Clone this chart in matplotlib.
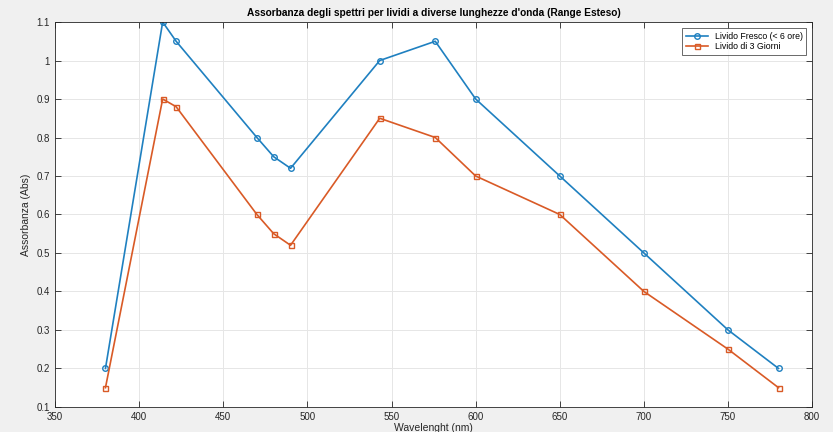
import matplotlib
matplotlib.use('Agg')
import matplotlib.pyplot as plt
import numpy as np

plt.rcParams['font.family'] = ['Liberation Sans', 'DejaVu Sans']

# Wavelengths (nm) and absorbance values
wavelengths = [380, 414, 422, 470, 480, 490, 543, 576, 600, 650, 700, 750, 780]
abs_fresh = [0.20, 1.10, 1.05, 0.80, 0.75, 0.72, 1.00, 1.05, 0.90, 0.70, 0.50, 0.30, 0.20]
abs_3days = [0.15, 0.90, 0.88, 0.60, 0.55, 0.52, 0.85, 0.80, 0.70, 0.60, 0.40, 0.25, 0.15]
labels = ['Livido Fresco (< 6 ore)', 'Livido di 3 Giorni']

xticks = np.arange(350, 801, 50)
yticks = np.round(np.arange(0.1, 1.101, 0.1), 1)

fig = plt.figure(figsize=(8.33, 4.32), dpi=100, facecolor='#f0f0f0')
ax = fig.add_axes([0.066, 0.058, 0.909, 0.891])
ax.set_facecolor('white')

ax.plot(wavelengths, abs_fresh, '-o', color='#1f80c0', lw=1.2, ms=4,
        mfc='none', mew=1.0, label=labels[0])
ax.plot(wavelengths, abs_3days, '-s', color='#d95a26', lw=1.2, ms=3.6,
        mfc='none', mew=1.0, label=labels[1])

ax.set_xlim(350, 800)
ax.set_ylim(0.1, 1.1)
ax.set_xticks(xticks)
ax.set_yticks(yticks)
ax.set_yticklabels([f'{v:g}' for v in yticks])
ax.grid(True, color='#e6e6e6', lw=0.7)
ax.set_axisbelow(True)
ax.tick_params(direction='in', length=4, width=0.6, labelsize=7, colors='#262626',
               top=True, right=True)
for s in ax.spines.values():
    s.set_color('#262626')
    s.set_linewidth(0.6)

ax.set_title("Assorbanza degli spettri per lividi a diverse lunghezze d'onda (Range Esteso)",
             fontsize=7.3, fontweight='bold', pad=4)
ax.set_xlabel('Wavelenght (nm)', fontsize=7.5, labelpad=1, color='#262626')
ax.set_ylabel('Assorbanza (Abs)', fontsize=7.5, labelpad=4, color='#262626')

leg = ax.legend(loc='upper right', fontsize=6.3, frameon=True, fancybox=False,
                edgecolor='#262626', handlelength=2.5, borderaxespad=0.7,
                borderpad=0.4, labelspacing=0.2)
leg.get_frame().set_linewidth(0.6)

fig.savefig('out.png', dpi=100, facecolor=fig.get_facecolor())
plt.close(fig)
